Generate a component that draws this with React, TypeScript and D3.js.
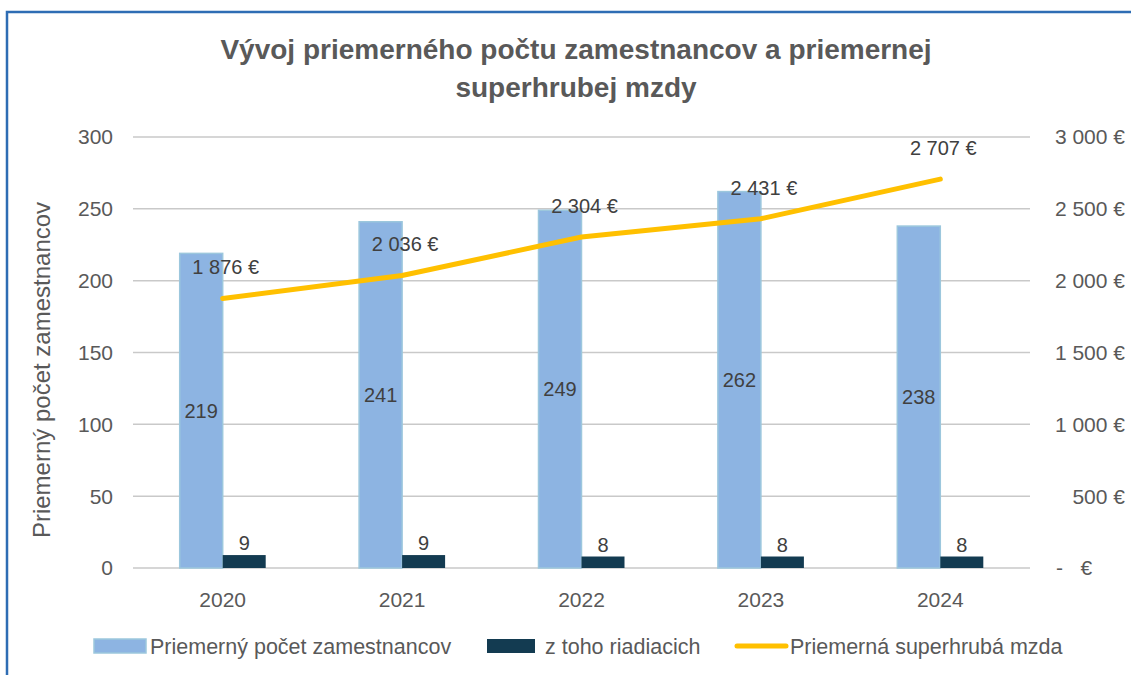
import React from 'react';
import * as d3 from 'd3';

// years on the x axis
const years = ['2020', '2021', '2022', '2023', '2024'];
// average headcount
const employees = [219, 241, 249, 262, 238];
// of which managers
const managers = [9, 9, 8, 8, 8];
// average total labour cost (EUR)
const wages = [1876, 2036, 2304, 2431, 2707];

const leftTicks = [0, 50, 100, 150, 200, 250, 300];
const rightTicks = [0, 500, 1000, 1500, 2000, 2500, 3000];

const W = 1131;
const H = 675;
const font = '"Liberation Sans", Arial, sans-serif';
const textColor = '#595959';
const labelColor = '#404040';

const sk = d3.formatLocale({ decimal: ',', thousands: '\u00a0', grouping: [3], currency: ['', ' €'] });
const fmtNum = sk.format(',d');
const eur = (v: number) => `${fmtNum(v)} €`;

const App = () => {
  const plot = { left: 133, right: 1030, top: 137, bottom: 568 };

  const x = d3.scaleBand<string>().domain(years).range([plot.left, plot.right]).padding(0);
  const yL = d3.scaleLinear().domain([0, 300]).range([plot.bottom, plot.top]);
  const yR = d3.scaleLinear().domain([0, 3000]).range([plot.bottom, plot.top]);
  const barW = 43;
  const cx = (y: string) => (x(y) as number) + x.bandwidth() / 2;

  const line = d3.line<number>()
    .x((d, i) => cx(years[i]))
    .y(d => yR(d));

  return (
    <svg width={W} height={H} style={{ position: 'absolute', left: 0, top: 0, background: '#fff' }}>
      <rect x={7} y={12} width={W + 10} height={H + 10} fill="#fff" stroke="#2E6DB4" strokeWidth={2.5} />

      <g fontFamily={font} fontWeight="bold" fontSize={28} fill={textColor} textAnchor="middle">
        <text x={576} y={59}>Vývoj priemerného počtu zamestnancov a priemernej</text>
        <text x={576} y={97}>superhrubej mzdy</text>
      </g>

      {/* gridlines */}
      {leftTicks.map(t => (
        <line key={t} x1={plot.left} x2={plot.right} y1={yL(t)} y2={yL(t)} stroke="#C9C9C9" strokeWidth={1.5} />
      ))}

      {/* left axis labels */}
      <g fontFamily={font} fontSize={21} fill={textColor} textAnchor="end">
        {leftTicks.map(t => (
          <text key={t} x={113} y={yL(t)} dy="0.35em">{t}</text>
        ))}
      </g>

      {/* right axis labels */}
      <g fontFamily={font} fontSize={21} fill={textColor}>
        {rightTicks.map(t => t === 0 ? (
          <text key={t} x={1056} y={yR(t)} dy="0.35em" style={{ whiteSpace: 'pre' }}>{'-   €'}</text>
        ) : (
          <text key={t} x={1125} y={yR(t)} dy="0.35em" textAnchor="end">{eur(t)}</text>
        ))}
      </g>

      <text
        transform={`translate(50,370) rotate(-90)`}
        fontFamily={font} fontSize={24} fill={textColor} textAnchor="middle"
      >Priemerný počet zamestnancov</text>

      {/* x axis labels */}
      <g fontFamily={font} fontSize={21} fill={textColor} textAnchor="middle">
        {years.map(y => (
          <text key={y} x={cx(y)} y={600} dy="0.35em">{y}</text>
        ))}
      </g>

      {/* bars */}
      {years.map((y, i) => (
        <g key={y}>
          <rect x={cx(y) - barW} y={yL(employees[i])} width={barW} height={yL(0) - yL(employees[i])}
            fill="#8DB4E2" stroke="#9CC7DD" strokeWidth={1.5} />
          <rect x={cx(y)} y={yL(managers[i])} width={barW} height={yL(0) - yL(managers[i])} fill="#133B51" />
        </g>
      ))}

      <path d={line(wages) || ''} fill="none" stroke="#FFC000" strokeWidth={5} strokeLinecap="round" strokeLinejoin="round" />

      {/* data labels */}
      <g fontFamily={font} fontSize={20} fill={labelColor} textAnchor="middle">
        {years.map((y, i) => (
          <g key={y}>
            <text x={cx(y) - barW / 2} y={(yL(employees[i]) + yL(0)) / 2} dy="0.35em">{employees[i]}</text>
            <text x={cx(y) + barW / 2} y={yL(managers[i]) - 5}>{managers[i]}</text>
            <text x={cx(y) + 3} y={yR(wages[i]) - 31} dy="0.35em">{eur(wages[i])}</text>
          </g>
        ))}
      </g>

      {/* legend */}
      <g fontFamily={font} fontSize={21.5} fill={textColor}>
        <rect x={94} y={639} width={52} height={14} fill="#8DB4E2" stroke="#9CC7DD" strokeWidth={1.5} />
        <text x={150} y={646} dy="0.35em">Priemerný počet zamestnancov</text>
        <rect x={487} y={639} width={48} height={14} fill="#133B51" />
        <text x={545} y={646} dy="0.35em">z toho riadiacich</text>
        <line x1={737} x2={786} y1={646} y2={646} stroke="#FFC000" strokeWidth={5} strokeLinecap="round" />
        <text x={790} y={646} dy="0.35em">Priemerná superhrubá mzda</text>
      </g>
    </svg>
  );
};

export default App;
